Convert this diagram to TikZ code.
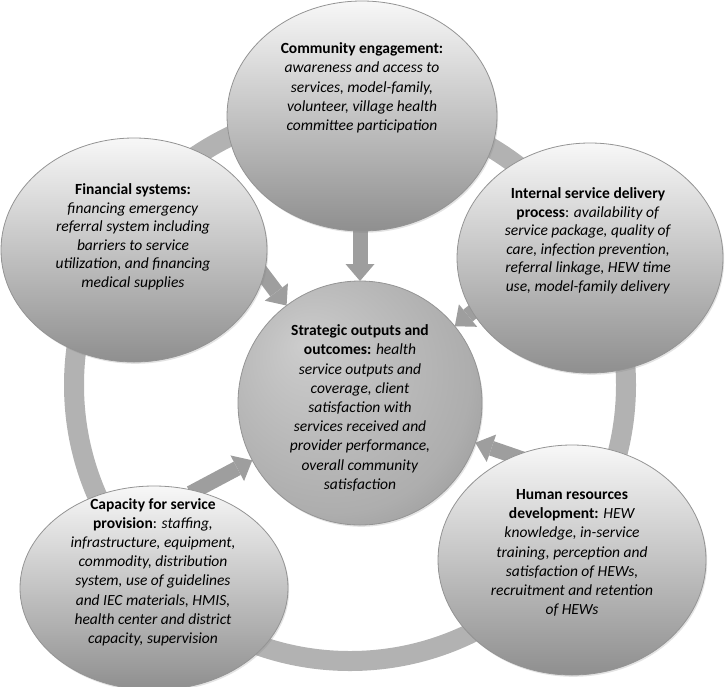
\documentclass[tikz,border=0pt]{standalone}
\usepackage{fontspec}
\setmainfont{Carlito}
\usetikzlibrary{shapes.geometric,arrows.meta,shadows}
\pgfdeclarelayer{bg}
\pgfsetlayers{bg,main}
\definecolor{ringc}{gray}{0.70}
\definecolor{arrc}{gray}{0.62}
\definecolor{edgec}{gray}{0.58}
\definecolor{otop}{gray}{0.97}
\definecolor{obot}{gray}{0.56}
\definecolor{cA}{gray}{0.80}
\definecolor{cB}{gray}{0.68}
\definecolor{cC}{gray}{0.46}
\pgfdeclareradialshading{ctrsh}{\pgfpoint{-12bp}{12bp}}{color(0bp)=(cA); color(28bp)=(cB); color(50bp)=(cC)}
\tikzset{
  outer/.style={ellipse, draw=edgec, line width=0.8pt, inner sep=0pt, outer sep=0pt,
    top color=otop, bottom color=obot,
    drop shadow={opacity=0.22, shadow xshift=1.2pt, shadow yshift=-1.8pt}},
  inner/.style={circle, draw=edgec, line width=0.8pt, inner sep=0pt, outer sep=0pt,
    shading=ctrsh,
    drop shadow={opacity=0.22, shadow xshift=1.2pt, shadow yshift=-1.8pt}},
  txt/.style={align=center, inner sep=0pt, font=\fontsize{15.5}{19.2}\selectfont},
  txtb/.style={align=center, inner sep=0pt, font=\fontsize{15.5}{18.5}\selectfont},
  arr/.style={draw=arrc, line width=15pt, -{Triangle[width=29pt,length=17pt,line width=0pt]}},
  ringline/.style={draw=ringc, line width=20pt}
}
\begin{document}
\begin{tikzpicture}[x=1pt,y=-1pt]
\useasboundingbox (0,0) rectangle (725,686);
% shapes
\node[outer, minimum width=270pt, minimum height=230pt] (comm) at (362,116) {};
\node[outer, minimum width=266pt, minimum height=224pt] (fin) at (134,250) {};
\node[outer, minimum width=266pt, minimum height=230pt] (isd) at (590,258) {};
\node[outer, minimum width=268pt, minimum height=204pt] (cap) at (154,588) {};
\node[outer, minimum width=268pt, minimum height=230pt] (hrd) at (572,560) {};
\node[inner, minimum size=244pt] (ctr) at (360,403) {};
% texts
\node[txt] (commT) at (362,88) {\textbf{Community engagement:}\\
  \textit{awareness and access to}\\
  \textit{services, model-family,}\\
  \textit{volunteer, village health}\\
  \textit{committee participation}};
\node[txtb] (finT) at (133,237) {\textbf{Financial systems:}\\
  \textit{financing emergency}\\
  \textit{referral system including}\\
  \textit{barriers to service}\\
  \textit{utilization, and financing}\\
  \textit{medical supplies}};
\node[txtb] (isdT) at (588,241) {\textbf{Internal service delivery}\\
  \textbf{process}: \textit{availability of}\\
  \textit{service package, quality of}\\
  \textit{care, infection prevention,}\\
  \textit{referral linkage, HEW time}\\
  \textit{use, model-family delivery}};
\node[txt] (ctrT) at (360,408) {\textbf{Strategic outputs and}\\
  \textbf{outcomes:} \textit{health}\\
  \textit{service outputs and}\\
  \textit{coverage, client}\\
  \textit{satisfaction with}\\
  \textit{services received and}\\
  \textit{provider performance,}\\
  \textit{overall community}\\
  \textit{satisfaction}};
\node[txt] (capT) at (153,572) {\textbf{Capacity for service}\\
  \textbf{provision}: \textit{staffing,}\\
  \textit{infrastructure, equipment,}\\
  \textit{commodity, distribution}\\
  \textit{system, use of guidelines}\\
  \textit{and IEC materials, HMIS,}\\
  \textit{health center and district}\\
  \textit{capacity, supervision}};
\node[txt] (hrdT) at (572,553) {\textbf{Human resources}\\
  \textbf{development:} \textit{HEW}\\
  \textit{knowledge, in-service}\\
  \textit{training, perception and}\\
  \textit{satisfaction of HEWs,}\\
  \textit{recruitment and retention}\\
  \textit{of HEWs}};
% background: ring and arrows
\begin{pgfonlayer}{bg}
  \coordinate (ringc) at (350,385);
  \draw[ringline] (ringc) circle[radius=276pt];
  \path (ctr.90) ++(90:70pt) coordinate (a1);
  \path (ctr.127) ++(127:70pt) coordinate (a2);
  \path (ctr.39) ++(39:70pt) coordinate (a3);
  \path (ctr.-19) ++(-19:70pt) coordinate (a4);
  \path (ctr.-152) ++(-152:70pt) coordinate (a5);
  \draw[arr] (a1) -- (ctr.90);
  \draw[arr] (a2) -- (ctr.127);
  \draw[arr] (a3) -- (ctr.39);
  \draw[arr] (a4) -- (ctr.-19);
  \draw[arr] (a5) -- (ctr.-152);
\end{pgfonlayer}
\end{tikzpicture}
\end{document}
